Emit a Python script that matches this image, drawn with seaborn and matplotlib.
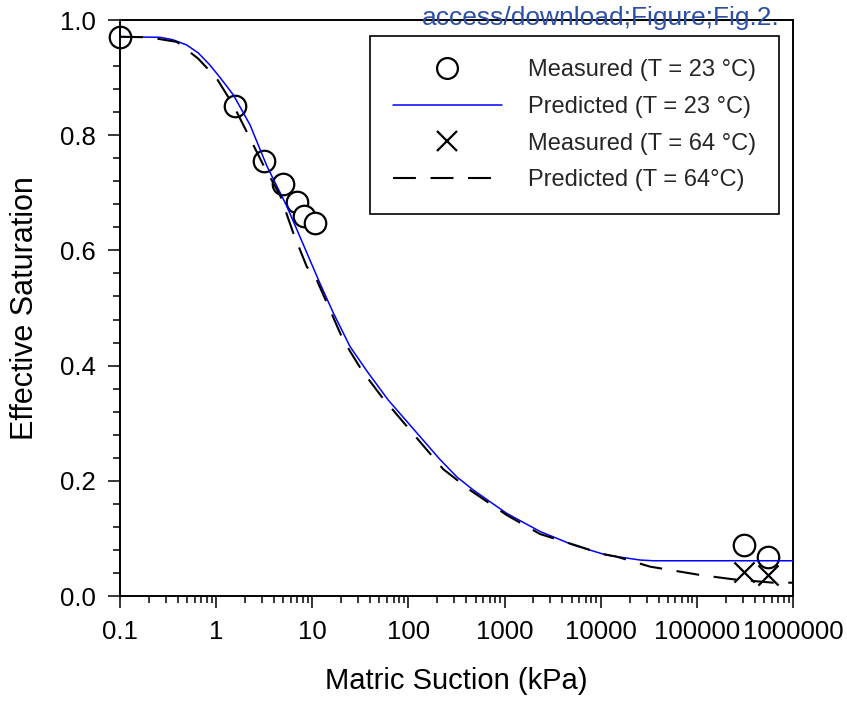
import matplotlib
matplotlib.use('Agg')
import matplotlib.pyplot as plt
import seaborn as sns
from matplotlib.ticker import FixedLocator, FixedFormatter, LogLocator, MultipleLocator, NullFormatter
from matplotlib.lines import Line2D

# measured points
meas23_x = [0.1, 1.57, 3.15, 4.92, 6.89, 8.2, 10.7, 3.1e5, 5.5e5]
meas23_y = [0.970, 0.851, 0.755, 0.715, 0.684, 0.659, 0.648, 0.089, 0.067]
meas64_x = [3.1e5, 5.5e5]
meas64_y = [0.042, 0.036]

# predicted curves
pred23_x = [0.1, 0.26, 0.35, 0.49, 0.65, 0.86, 1.1, 1.51, 2.25, 3.36, 5.42, 6.6, 12.0,
            16.6, 24.7, 38.3, 61.8, 213, 318, 473, 1052, 2340, 5190, 11500, 25600, 35000, 1e6]
pred23_y = [0.971, 0.970, 0.966, 0.957, 0.943, 0.922, 0.900, 0.870, 0.818, 0.747, 0.677,
            0.644, 0.543, 0.491, 0.433, 0.387, 0.340, 0.237, 0.207, 0.184, 0.1435, 0.112,
            0.0885, 0.071, 0.0625, 0.0612, 0.0612]
pred64_x = [0.1, 0.2, 0.39, 0.65, 1.01, 1.51, 2.08, 3.10, 4.62, 6.35, 8.75, 11.1, 15.3, 21.0,
            32.7, 52.7, 231, 437, 1052, 2340, 6100, 9840, 14650, 32600, 108000, 239000,
            624000, 1e6]
pred64_y = [0.971, 0.970, 0.962, 0.933, 0.899, 0.852, 0.806, 0.748, 0.696, 0.630, 0.572,
            0.549, 0.4965, 0.444, 0.392, 0.346, 0.220, 0.184, 0.1406, 0.1076, 0.0856, 0.074,
            0.0683, 0.051, 0.0365, 0.029, 0.0231, 0.0231]

x_ticks = [0.1, 1, 10, 100, 1000, 10000, 100000, 1000000]
x_tick_labels = ['0.1', '1', '10', '100', '1000', '10000', '100000', '1000000']
y_ticks = [0.0, 0.2, 0.4, 0.6, 0.8, 1.0]
y_tick_labels = ['0.0', '0.2', '0.4', '0.6', '0.8', '1.0']

labels = ['Measured (T = 23 °C)', 'Predicted (T = 23 °C)',
          'Measured (T = 64 °C)', 'Predicted (T = 64°C)']

sns.set_theme(style='ticks')
plt.rcParams['font.family'] = ['Liberation Sans', 'DejaVu Sans']

fig = plt.figure(figsize=(8.47, 7.05), dpi=100)
ax = fig.add_axes([0.1417, 0.1546, 0.7945, 0.817])
ax.set_xscale('log')

dash = (0, (11, 7))
sns.scatterplot(x=meas23_x, y=meas23_y, marker='o', s=240, color='white', edgecolor='black',
                linewidth=1.6, zorder=2, clip_on=False, ax=ax)
sns.scatterplot(x=meas64_x, y=meas64_y, marker='x', s=210, color='black',
                linewidth=1.6, zorder=2, clip_on=False, ax=ax)
sns.lineplot(x=pred23_x, y=pred23_y, color='#0000ff', linewidth=1.1, zorder=3, ax=ax)
sns.lineplot(x=pred64_x, y=pred64_y, color='black', linewidth=1.5, linestyle=dash, zorder=3, ax=ax)

ax.set_xlim(0.1, 1e6)
ax.set_ylim(0, 1.0)

ax.xaxis.set_major_locator(FixedLocator(x_ticks))
ax.xaxis.set_major_formatter(FixedFormatter(x_tick_labels))
ax.xaxis.set_minor_locator(LogLocator(base=10, subs=range(2, 10), numticks=50))
ax.xaxis.set_minor_formatter(NullFormatter())
ax.yaxis.set_major_locator(FixedLocator(y_ticks))
ax.yaxis.set_major_formatter(FixedFormatter(y_tick_labels))
ax.yaxis.set_minor_locator(MultipleLocator(0.04))

ax.tick_params(which='major', direction='out', length=8.5, width=1.1, pad=9,
               labelsize=18.5, color='black', labelcolor='black')
ax.tick_params(which='minor', direction='out', length=5, width=1.1, color='black')
for s in ax.spines.values():
    s.set_color('black')
    s.set_linewidth(1.4)

ax.set_xlabel('Matric Suction (kPa)', fontsize=21, labelpad=16, color='black')
ax.set_ylabel('Effective Saturation', fontsize=22, labelpad=14, color='black')

handles = [
    Line2D([], [], marker='o', linestyle='none', markersize=15, markerfacecolor='white',
           markeredgecolor='black', markeredgewidth=1.6),
    Line2D([], [], color='#0000ff', linewidth=1.1),
    Line2D([], [], marker='x', linestyle='none', markersize=14, color='black',
           markeredgewidth=1.6),
    Line2D([], [], color='black', linewidth=1.5, linestyle=dash),
]
leg = ax.legend(handles, labels, loc='upper right', bbox_to_anchor=(0.979, 0.972),
                borderaxespad=0, fontsize=17, frameon=True, fancybox=False,
                framealpha=1, edgecolor='black', handlelength=4.6, handletextpad=1.1,
                labelspacing=0.62, borderpad=0.98)
leg.get_frame().set_linewidth(1.2)

fig.text(0.709, 0.9645, 'access/download;Figure;Fig.2.', fontsize=19, color='#2d4fa8',
         ha='center', va='baseline')

fig.savefig('out.png', dpi=100)
